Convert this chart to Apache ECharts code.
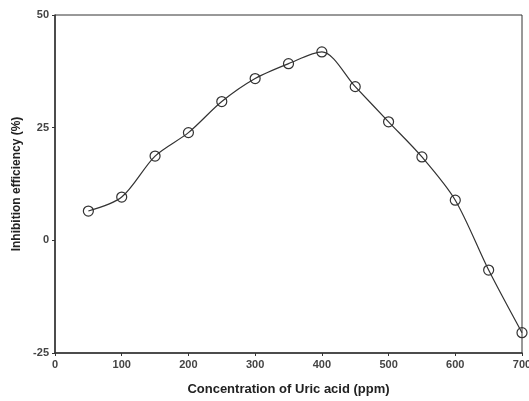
<!DOCTYPE html>
<html lang="en">
<head>
    <meta charset="utf-8">
    <title>Inhibition efficiency</title>
    <script src="https://cdn.jsdelivr.net/npm/echarts@6/dist/echarts.min.js"></script>
    <style>
        html, body { margin: 0; padding: 0; background: #fff; }
        #main { width: 529px; height: 401px; }
    </style>
</head>
<body>
<div id="main"></div>
<script type="text/javascript">
    // values
    var concentration = [50, 100, 150, 200, 250, 300, 350, 400, 450, 500, 550, 600, 650, 700];
    var efficiency = [6.5, 9.6, 18.7, 23.9, 30.8, 35.9, 39.2, 41.8, 34.1, 26.3, 18.5, 8.9, -6.6, -20.5];

    var points = concentration.map(function (c, i) { return [c, efficiency[i]]; });

    var myChart = echarts.init(document.getElementById('main'));
    var option = {
        animation: false,
        backgroundColor: '#fff',
        grid: {
            left: 55, right: 7, top: 15, bottom: 48,
            outerBoundsMode: 'none',
            show: true, borderColor: '#333', borderWidth: 1
        },
        xAxis: {
            type: 'value',
            min: 0, max: 700, interval: 100,
            name: 'Concentration of Uric acid (ppm)',
            nameLocation: 'middle',
            nameGap: 30,
            nameTextStyle: { fontFamily: 'Liberation Sans', fontWeight: 'bold', fontSize: 13, color: '#222' },
            axisLine: { onZero: false, lineStyle: { color: '#333', width: 1.5 } },
            axisTick: { length: 3, lineStyle: { color: '#333' } },
            axisLabel: { fontFamily: 'Liberation Sans', fontWeight: 'bold', fontSize: 11, color: '#444', margin: 6 },
            splitLine: { show: false }
        },
        yAxis: {
            type: 'value',
            min: -25, max: 50, interval: 25,
            name: 'Inhibition efficiency (%)',
            nameLocation: 'middle',
            nameGap: 25,
            nameTextStyle: { fontFamily: 'Liberation Sans', fontWeight: 'bold', fontSize: 12, color: '#222' },
            axisLine: { onZero: false, lineStyle: { color: '#333', width: 1.5 } },
            axisTick: { length: 3, lineStyle: { color: '#333' } },
            axisLabel: { fontFamily: 'Liberation Sans', fontWeight: 'bold', fontSize: 11, color: '#444', margin: 6 },
            splitLine: { show: false }
        },
        series: [
            {
                type: 'line',
                data: points,
                smooth: 0.3,
                symbol: 'circle',
                symbolSize: 10,
                itemStyle: { color: 'rgba(255,255,255,0)', borderColor: '#333', borderWidth: 1.2 },
                lineStyle: { color: '#333', width: 1.2 }
            }
        ]
    };

    myChart.setOption(option);
</script>
</body>
</html>
